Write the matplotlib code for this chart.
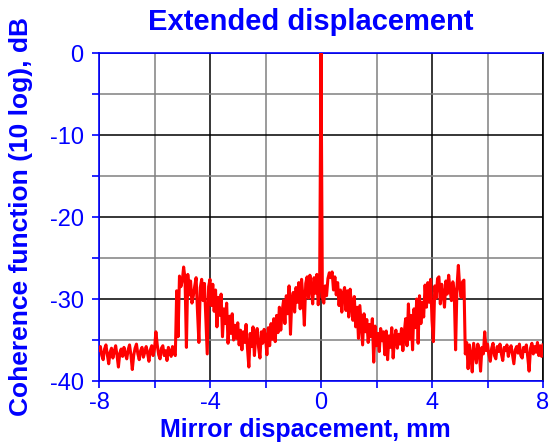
import numpy as np
import matplotlib
matplotlib.use("Agg")
import matplotlib.pyplot as plt
from matplotlib.ticker import MultipleLocator

# coherence (dB) sampled every 0.05 mm, one list per millimetre
seg_m8 = [-36.2, -35.8, -36.9, -37.4, -36.1, -35.6, -36.8, -37.9, -36.5, -36.0,
          -37.2, -36.4, -35.7, -36.9, -38.3, -36.6, -36.1, -37.0, -35.9, -36.7]
seg_m7 = [-37.3, -36.2, -35.6, -36.8, -38.6, -36.9, -36.0, -35.5, -36.7, -37.4,
          -36.3, -35.9, -37.1, -36.5, -35.8, -36.6, -37.6, -36.2, -35.7, -36.9]
seg_m6 = [-36.1, -34.0, -35.6, -36.8, -37.3, -36.0, -35.7, -36.9, -36.3, -37.5,
          -35.9, -36.4, -37.0, -35.8, -36.6, -36.9, -29.0, -34.6, -27.2, -28.5]
seg_m5 = [-27.8, -26.1, -27.5, -35.9, -27.0, -29.5, -27.8, -30.5, -29.6, -28.4,
          -27.4, -31.6, -35.3, -28.6, -27.6, -30.2, -28.1, -32.5, -36.7, -28.5]
seg_m4 = [-27.6, -30.8, -28.2, -31.5, -28.9, -33.4, -29.8, -32.0, -29.4, -34.6,
          -31.2, -33.0, -30.5, -35.4, -32.1, -34.2, -31.8, -35.0, -33.2, -34.8]
seg_m3 = [-32.9, -35.6, -33.8, -36.2, -34.0, -35.3, -33.1, -36.0, -38.3, -34.2,
          -35.8, -33.4, -36.9, -34.5, -33.6, -35.9, -37.2, -34.0, -35.4, -33.7]
seg_m2 = [-34.6, -36.8, -33.5, -35.7, -33.0, -34.9, -32.4, -35.2, -32.0, -34.1,
          -31.0, -33.8, -31.5, -30.2, -33.0, -29.6, -31.8, -28.4, -34.3, -30.0]
seg_m1 = [-29.2, -31.6, -28.6, -30.4, -28.0, -31.2, -27.6, -29.8, -33.2, -28.1,
          -27.3, -29.9, -27.1, -28.6, -30.6, -27.4, -29.3, -27.0, -30.7, -28.6]
peak = [0.0]
seg_p0 = [-29.8, -30.5, -28.4, -29.6, -27.5, -26.8, -27.4, -26.7, -28.9, -27.3,
          -29.5, -28.0, -30.8, -28.9, -31.6, -29.3, -28.6, -31.4, -29.0, -32.2]
seg_p1 = [-28.8, -30.9, -32.6, -29.7, -33.4, -31.0, -34.8, -30.8, -33.2, -35.6,
          -31.8, -34.0, -32.5, -35.3, -33.1, -34.6, -32.4, -37.7, -33.3, -35.7]
seg_p2 = [-34.2, -36.4, -33.6, -35.1, -34.0, -36.8, -33.9, -37.4, -34.5, -35.9,
          -33.5, -37.2, -34.8, -33.8, -36.0, -34.3, -35.5, -33.6, -36.3, -34.1]
seg_p3 = [-32.4, -35.7, -30.6, -34.9, -32.0, -36.2, -31.2, -33.5, -30.0, -35.4,
          -29.6, -33.0, -30.4, -32.2, -28.3, -31.0, -28.0, -30.4, -27.6, -32.6]
seg_p4 = [-35.2, -28.4, -29.9, -27.5, -27.3, -30.6, -28.2, -29.4, -31.0, -27.8,
          -29.4, -27.1, -28.8, -30.2, -27.9, -29.0, -36.2, -28.5, -25.9, -28.6]
seg_p5 = [-29.8, -27.9, -27.7, -36.7, -35.3, -38.5, -35.6, -36.9, -38.9, -35.4,
          -36.6, -37.8, -35.5, -36.2, -38.8, -35.9, -36.7, -34.0, -36.3, -35.5]
seg_p6 = [-36.8, -37.6, -36.0, -35.4, -36.9, -37.3, -35.8, -36.4, -35.5, -36.7,
          -37.5, -35.9, -36.3, -35.6, -37.0, -36.1, -35.7, -36.8, -37.9, -36.2]
seg_p7 = [-35.8, -36.6, -35.5, -36.9, -37.2, -35.9, -36.4, -35.6, -37.1, -38.8,
          -36.0, -35.4, -36.7, -35.8, -36.5, -35.3, -36.9, -35.7, -37.0, -35.6]

coherence = (seg_m8 + seg_m7 + seg_m6 + seg_m5 + seg_m4 + seg_m3 + seg_m2 + seg_m1
             + peak + seg_p0 + seg_p1 + seg_p2 + seg_p3 + seg_p4 + seg_p5 + seg_p6 + seg_p7)
displacement = np.linspace(-8, 8, len(coherence))

BLUE = "#0000ff"
plt.rcParams.update({"font.family": "Liberation Sans", "axes.unicode_minus": False})

fig = plt.figure(figsize=(5.51, 4.45), dpi=100)
ax = fig.add_axes([99 / 551, 1 - 381 / 445, 444 / 551, 328 / 445])

ax.plot(displacement, coherence, color="#ff0000", lw=2.2, zorder=3)

ax.set_xlim(-8, 8); ax.set_ylim(-40, 0)
ax.xaxis.set_major_locator(MultipleLocator(4)); ax.xaxis.set_minor_locator(MultipleLocator(2))
ax.yaxis.set_major_locator(MultipleLocator(10)); ax.yaxis.set_minor_locator(MultipleLocator(5))
ax.grid(which="major", color="black", lw=1.1, zorder=0)
ax.grid(which="minor", color="#808080", lw=1.1, zorder=0)

for s in ("left", "bottom", "top"):
    ax.spines[s].set_color(BLUE); ax.spines[s].set_linewidth(1.2)
ax.spines["right"].set_color("black"); ax.spines["right"].set_linewidth(1.2)
ax.tick_params(which="both", direction="out", color=BLUE, labelcolor=BLUE, labelsize=17,
               width=1.2, length=5, pad=3)
ax.tick_params(axis="y", which="both", pad=6)

fig.text(311 / 551, 1 - 30 / 445, "Extended displacement", color=BLUE, fontsize=21,
         fontweight="bold", ha="center", va="baseline")
fig.text(305 / 551, 1 - 437 / 445, "Mirror dispacement, mm", color=BLUE, fontsize=18,
         fontweight="bold", ha="center", va="baseline")
fig.text(21 / 551, 1 - 216 / 445, "Coherence function (10 log), dB", color=BLUE, fontsize=19,
         fontweight="bold", ha="center", va="center", rotation=90)

fig.savefig("out.png", dpi=100)
